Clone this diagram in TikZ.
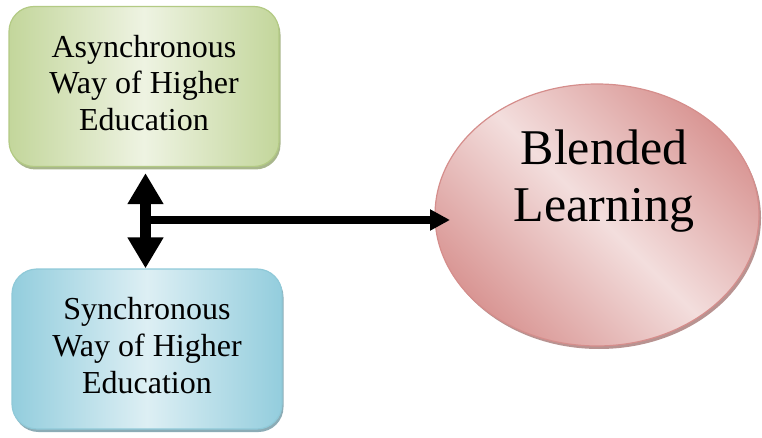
\documentclass[tikz,border=0pt]{standalone}
\usepackage{fontspec}
\setmainfont{Liberation Serif}
\usetikzlibrary{shapes.geometric,arrows.meta,shadows}
\definecolor{gdark}{HTML}{C3D69B}
\definecolor{glight}{HTML}{EEF3E2}
\definecolor{gborder}{HTML}{B3CA84}
\definecolor{gshadow}{HTML}{9FAE80}
\definecolor{bdark}{HTML}{93CDDD}
\definecolor{blight}{HTML}{DDEFF4}
\definecolor{bborder}{HTML}{8FC9D8}
\definecolor{bshadow}{HTML}{7FA3AE}
\definecolor{pdark}{HTML}{D99694}
\definecolor{plight}{HTML}{F3DEDD}
\definecolor{pborder}{HTML}{D58E8C}
\definecolor{pshadow}{HTML}{B08785}
\tikzset{
  boxbase/.style={rounded corners=25pt, minimum width=270pt, minimum height=160pt,
    line width=1.2pt, align=center, inner sep=0pt,
    font=\fontsize{32}{36.8}\selectfont, shading angle=-45},
  greenbox/.style={boxbase, draw=gborder, left color=gdark, right color=gdark, middle color=glight,
    drop shadow={shadow xshift=1.5pt, shadow yshift=-3pt, fill=gshadow, opacity=0.9}},
  bluebox/.style={boxbase, draw=bborder, left color=bdark, right color=bdark, middle color=blight,
    drop shadow={shadow xshift=1.5pt, shadow yshift=-3pt, fill=bshadow, opacity=0.9}},
  pinkell/.style={ellipse, minimum width=324pt, minimum height=262pt, line width=1.2pt,
    draw=pborder, left color=pdark, right color=pdark, middle color=plight, shading angle=-45,
    drop shadow={shadow xshift=2pt, shadow yshift=-3pt, fill=pshadow, opacity=0.9}},
  bigtext/.style={align=center, font=\fontsize{50}{57.5}\selectfont, inner sep=0pt},
  dbl/.style={line width=11pt, {Triangle[width=34pt,length=31pt]}-{Triangle[width=34pt,length=31pt]}},
  hor/.style={line width=8pt, -{Triangle[width=20pt,length=20pt]}}
}
\begin{document}
\begin{tikzpicture}[x=1pt,y=-1pt]
\useasboundingbox (0,0) rectangle (762,438);
\node[greenbox] (g) at (144,86.5) {\raisebox{7pt}{\begin{tabular}{@{}c@{}}Asynchronous\\Way of Higher\\Education\end{tabular}}};
\node[bluebox] (b) at (147,349) {\raisebox{6pt}{\begin{tabular}{@{}c@{}}Synchronous\\Way of Higher\\Education\end{tabular}}};
\node[pinkell] (e) at (597,215) {};
\node[bigtext] (et) at (604,181) {Blended\\Learning};
\draw[dbl] ([yshift=-6pt]g.south -| 145.5,0) -- (b.north -| 145.5,0);
\coordinate (j) at (145.5,220);
\draw[hor] (j) -- (450,220) coordinate (tip);
\end{tikzpicture}
\end{document}
